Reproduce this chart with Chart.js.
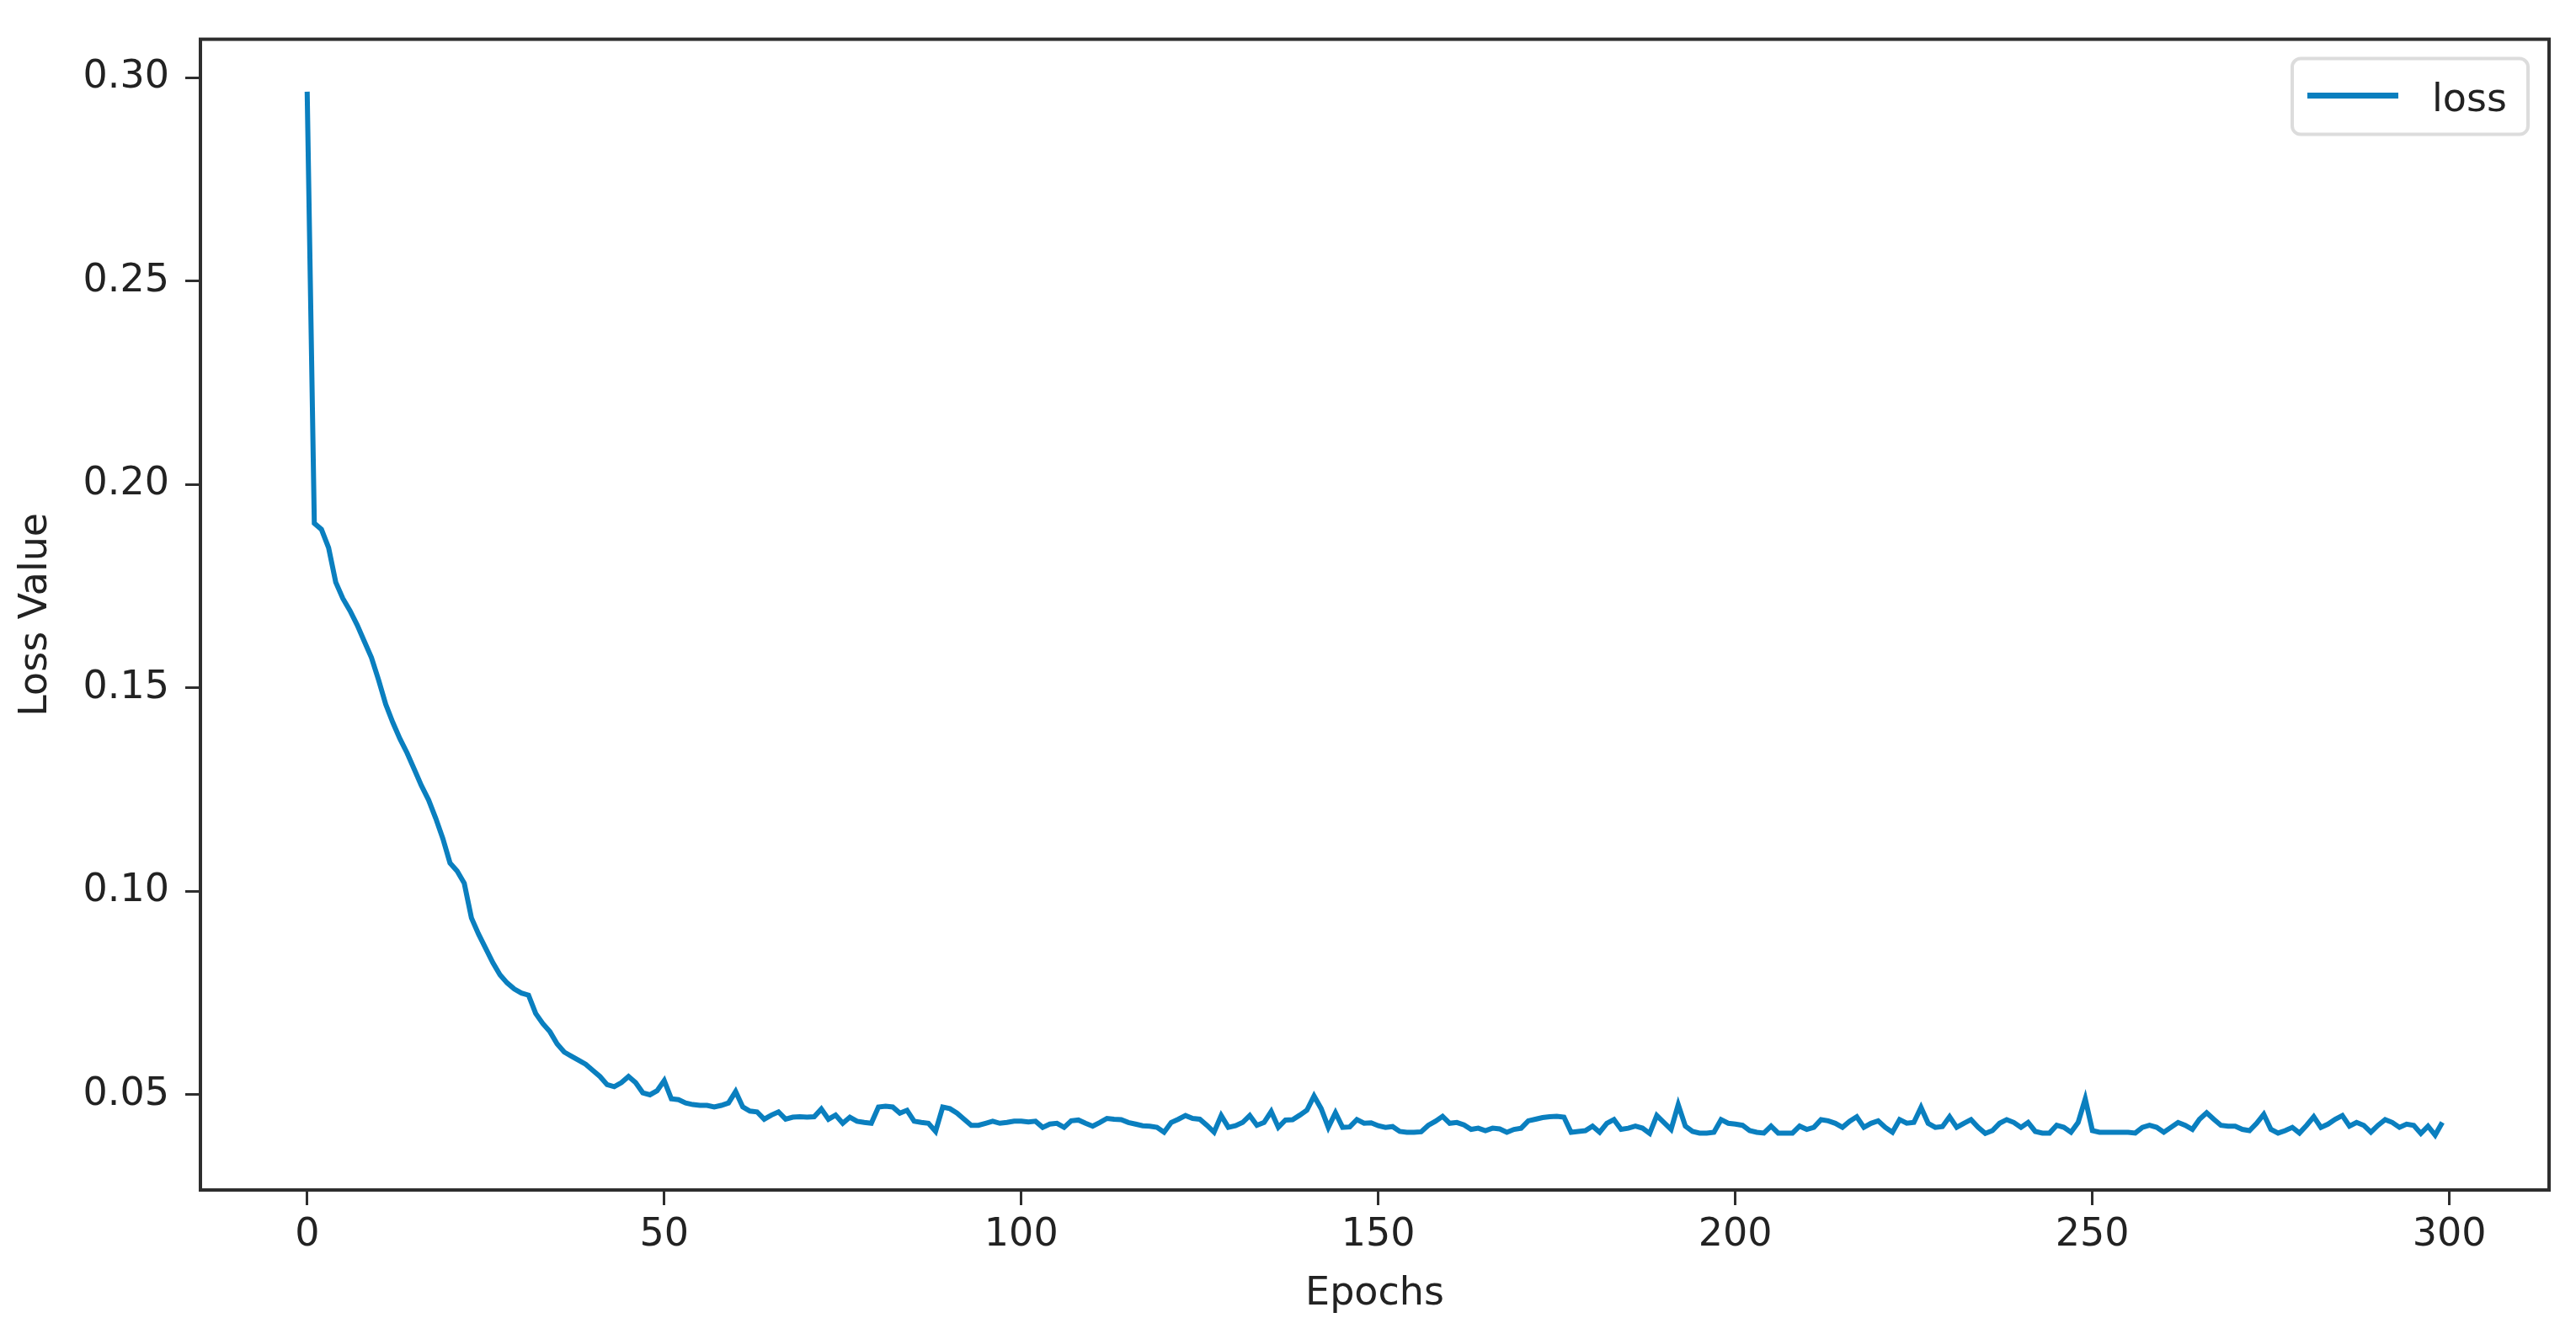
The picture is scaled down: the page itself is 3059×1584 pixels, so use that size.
<!DOCTYPE html>
<html>
<head>
<meta charset="utf-8">
<script src="https://cdn.jsdelivr.net/npm/chart.js@4.4.0/dist/chart.umd.min.js"></script>
<style>
  html, body { margin: 0; padding: 0; background: #fff; }
  #wrap { width: 3059px; height: 1584px; }
</style>
</head>
<body>
<div id="wrap"><canvas id="lossChart" width="3059" height="1584"></canvas></div>
<script>
//--------------- data ---------------//
var seriesLabel = 'loss';
var xTitle = 'Epochs';
var yTitle = 'Loss Value';
var xTicks = [0, 50, 100, 150, 200, 250, 300];
var yTicks = [0.05, 0.10, 0.15, 0.20, 0.25, 0.30];

// one value per epoch, 0..299
var lossValues = [
  0.2966, 0.1905, 0.1890, 0.1845, 0.1760, 0.1720, 0.1690, 0.1655, 0.1615, 0.1575, // 0-9
  0.1520, 0.1460, 0.1415, 0.1375, 0.1340, 0.1300, 0.1260, 0.1225, 0.1180, 0.1130, // 10-19
  0.1070, 0.1050, 0.1020, 0.0935, 0.0895, 0.0860, 0.0825, 0.0795, 0.0775, 0.0760, // 20-29
  0.0750, 0.0745, 0.0700, 0.0675, 0.0655, 0.0625, 0.0605, 0.0595, 0.0585, 0.0575, // 30-39
  0.0560, 0.0545, 0.0525, 0.0520, 0.0530, 0.0545, 0.0530, 0.0505, 0.0500, 0.0510, // 40-49
  0.0535, 0.0490, 0.0488, 0.0480, 0.0476, 0.0474, 0.0474, 0.0470, 0.0474, 0.0480, // 50-59
  0.0508, 0.0470, 0.0460, 0.0458, 0.0440, 0.0450, 0.0458, 0.0440, 0.0445, 0.0446, // 60-69
  0.0445, 0.0446, 0.0465, 0.0440, 0.0450, 0.0430, 0.0445, 0.0435, 0.0432, 0.0430, // 70-79
  0.0470, 0.0472, 0.0470, 0.0455, 0.0462, 0.0435, 0.0432, 0.0430, 0.0410, 0.0470, // 80-89
  0.0466, 0.0455, 0.0440, 0.0425, 0.0425, 0.0430, 0.0435, 0.0430, 0.0432, 0.0435, // 90-99
  0.0435, 0.0433, 0.0435, 0.0420, 0.0428, 0.0430, 0.0420, 0.0436, 0.0438, 0.0430, // 100-109
  0.0423, 0.0432, 0.0442, 0.0440, 0.0439, 0.0432, 0.0428, 0.0424, 0.0423, 0.0420, // 110-119
  0.0408, 0.0432, 0.0440, 0.0449, 0.0442, 0.0440, 0.0425, 0.0408, 0.0449, 0.0420, // 120-129
  0.0424, 0.0432, 0.0449, 0.0425, 0.0432, 0.0459, 0.0420, 0.0438, 0.0439, 0.0450, // 130-139
  0.0462, 0.0497, 0.0466, 0.0420, 0.0456, 0.0420, 0.0421, 0.0439, 0.0430, 0.0431, // 140-149
  0.0424, 0.0420, 0.0422, 0.0410, 0.0408, 0.0408, 0.0409, 0.0425, 0.0435, 0.0447, // 150-159
  0.0430, 0.0432, 0.0426, 0.0415, 0.0418, 0.0412, 0.0418, 0.0416, 0.0408, 0.0415, // 160-169
  0.0418, 0.0436, 0.0440, 0.0444, 0.0446, 0.0447, 0.0445, 0.0408, 0.0410, 0.0412, // 170-179
  0.0423, 0.0408, 0.0430, 0.0439, 0.0415, 0.0418, 0.0423, 0.0418, 0.0405, 0.0449, // 180-189
  0.0432, 0.0415, 0.0476, 0.0423, 0.0410, 0.0406, 0.0406, 0.0408, 0.0439, 0.0430, // 190-199
  0.0428, 0.0425, 0.0412, 0.0408, 0.0406, 0.0423, 0.0406, 0.0406, 0.0406, 0.0423, // 200-209
  0.0415, 0.0420, 0.0439, 0.0436, 0.0430, 0.0420, 0.0435, 0.0446, 0.0420, 0.0430, // 210-219
  0.0436, 0.0420, 0.0408, 0.0439, 0.0430, 0.0432, 0.0469, 0.0430, 0.0420, 0.0422, // 220-229
  0.0446, 0.0420, 0.0430, 0.0439, 0.0420, 0.0405, 0.0412, 0.0430, 0.0439, 0.0432, // 230-239
  0.0420, 0.0432, 0.0410, 0.0406, 0.0406, 0.0425, 0.0420, 0.0408, 0.0432, 0.0490, // 240-249
  0.0412, 0.0408, 0.0408, 0.0408, 0.0408, 0.0408, 0.0406, 0.0420, 0.0425, 0.0420, // 250-259
  0.0408, 0.0420, 0.0432, 0.0425, 0.0415, 0.0440, 0.0456, 0.0440, 0.0425, 0.0423, // 260-269
  0.0423, 0.0415, 0.0412, 0.0430, 0.0452, 0.0415, 0.0406, 0.0412, 0.0420, 0.0406, // 270-279
  0.0425, 0.0446, 0.0420, 0.0428, 0.0440, 0.0449, 0.0423, 0.0432, 0.0425, 0.0408, // 280-289
  0.0425, 0.0439, 0.0432, 0.0420, 0.0428, 0.0425, 0.0405, 0.0423, 0.0401, 0.0432  // 290-299
];
var epochs = lossValues.map(function(_, index) { return index; });

var lineColor = '#0a7fbf';
var inkColor = '#222222';
var fontFamily = '"DejaVu Sans", sans-serif';

//--------------- frame + legend (matplotlib look) ---------------//
var framePlugin = {
  id: 'frame',
  afterDraw: function(chart) {
    var ctx = chart.ctx;
    var a = chart.chartArea;
    ctx.save();
    // spines
    ctx.strokeStyle = '#2e2e2e';
    ctx.lineWidth = 4;
    ctx.strokeRect(a.left, a.top, a.right - a.left, a.bottom - a.top);

    // legend box, top right inside the axes
    var boxW = 280, boxH = 90;
    var bx = a.right - 25 - boxW;
    var by = a.top + 23;
    ctx.fillStyle = 'rgba(255,255,255,0.8)';
    ctx.strokeStyle = '#dcdcdc';
    ctx.lineWidth = 4;
    ctx.beginPath();
    ctx.roundRect(bx, by, boxW, boxH, 10);
    ctx.fill();
    ctx.stroke();

    var ds = chart.data.datasets[0];
    ctx.strokeStyle = ds.borderColor;
    ctx.lineWidth = 7;
    ctx.beginPath();
    ctx.moveTo(bx + 18, by + 44);
    ctx.lineTo(bx + 126, by + 44);
    ctx.stroke();

    ctx.fillStyle = inkColor;
    ctx.font = '46px ' + fontFamily;
    ctx.textBaseline = 'alphabetic';
    ctx.textAlign = 'left';
    ctx.fillText(ds.label, bx + 166, by + 62);
    ctx.restore();
  }
};

//--------------- chart ---------------//
const lossChart = new Chart(
  document.getElementById('lossChart'),
  {
    type: 'line',
    data: {
      datasets: [
        {
          label: seriesLabel,
          data: epochs.map(function(e, i) { return {x: e, y: lossValues[i]}; }),
          borderColor: lineColor,
          borderWidth: 6,
          pointRadius: 0,
          tension: 0,
          fill: false
        }
      ]
    },
    options: {
      responsive: false,
      animation: false,
      devicePixelRatio: 1,
      layout: { padding: { top: 27, right: 32, left: 0, bottom: 0 } },
      plugins: {
        legend: { display: false },
        tooltip: { enabled: false }
      },
      scales: {
        x: {
          type: 'linear',
          min: -14.95,
          max: 313.95,
          afterBuildTicks: function(scale) {
            scale.ticks = xTicks.map(function(v) { return {value: v}; });
          },
          afterFit: function(scale) { scale.height = 171; },
          border: { display: false },
          grid: { drawOnChartArea: false, drawTicks: true, tickLength: 18, tickWidth: 3, tickColor: '#2e2e2e' },
          ticks: {
            autoSkip: false, maxRotation: 0, padding: 8,
            color: inkColor, font: { family: fontFamily, size: 46 },
            callback: function(v) { return String(v); }
          },
          title: {
            display: true, text: xTitle, color: inkColor,
            font: { family: fontFamily, size: 46 },
            padding: { top: 0, bottom: 19 }
          }
        },
        y: {
          type: 'linear',
          min: 0.0266,
          max: 0.3095,
          afterBuildTicks: function(scale) {
            scale.ticks = yTicks.map(function(v) { return {value: v}; });
          },
          afterFit: function(scale) { scale.width = 238; },
          border: { display: false },
          grid: { drawOnChartArea: false, drawTicks: true, tickLength: 18, tickWidth: 3, tickColor: '#2e2e2e' },
          ticks: {
            padding: 19,
            color: inkColor, font: { family: fontFamily, size: 46 },
            callback: function(v) { return v.toFixed(2); }
          },
          title: {
            display: true, text: yTitle, color: inkColor,
            font: { family: fontFamily, size: 46 },
            padding: { top: 15, bottom: 0 }
          }
        }
      }
    },
    plugins: [framePlugin]
  }
);
</script>
</body>
</html>
